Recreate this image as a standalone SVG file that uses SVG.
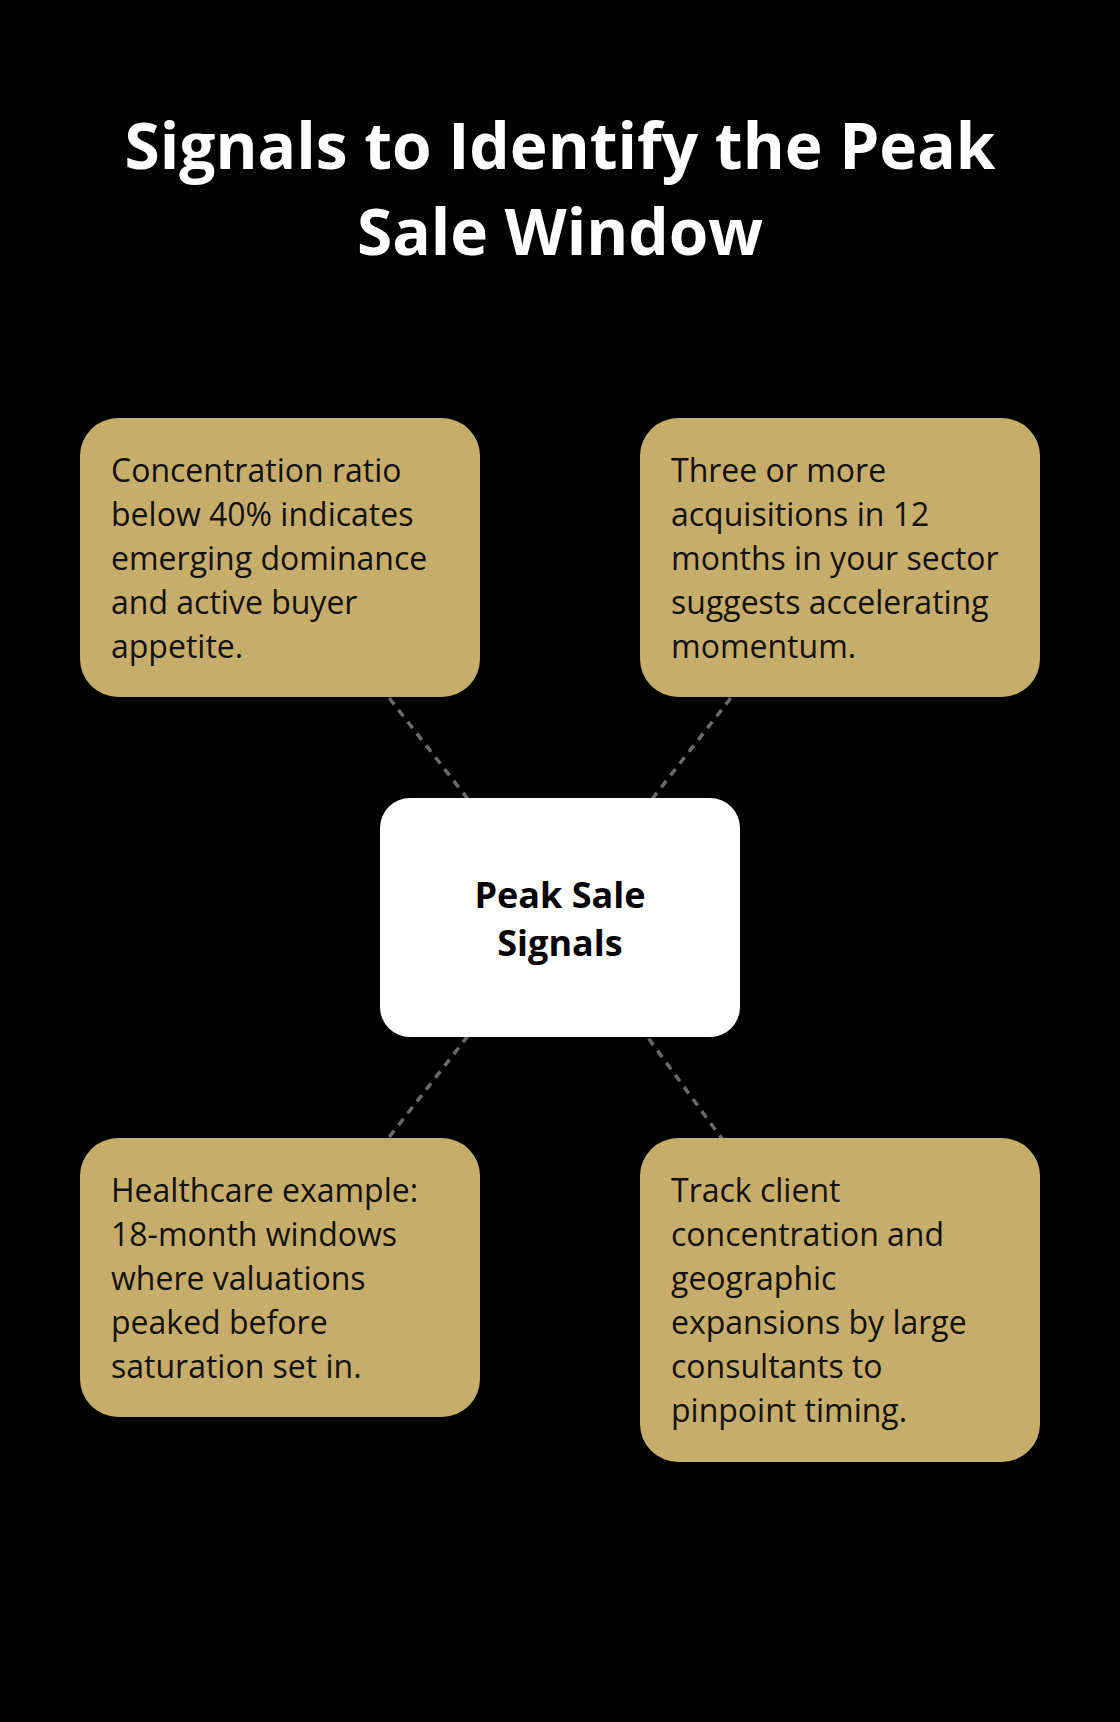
<svg xmlns="http://www.w3.org/2000/svg" width="1120" height="1722" viewBox="0 0 1120 1722">
<style>
.title{font-family:"Open Sans","Liberation Sans",sans-serif;font-weight:700;font-size:64px;fill:#ffffff;text-anchor:middle}
.box{fill:#C6AE6A}
.body{font-family:"Open Sans","Liberation Sans",sans-serif;font-size:32px;fill:#111111}
.center{fill:#ffffff}
.ctext{font-family:"Open Sans","Liberation Sans",sans-serif;font-weight:700;font-size:36px;fill:#000000;text-anchor:middle}
.conn{stroke:#6a6a6a;stroke-width:3.5;stroke-dasharray:8 7;fill:none}
</style>
<rect x="0" y="0" width="1120" height="1722" fill="#000000"/>
<g id="title">
<text class="title" x="560" y="169">Signals to Identify the Peak</text>
<text class="title" x="560" y="255">Sale Window</text>
</g>
<g id="connectors">
<line class="conn" x1="560" y1="917.5" x2="280" y2="557.5"/>
<line class="conn" x1="560" y1="917.5" x2="840" y2="557.5"/>
<line class="conn" x1="560" y1="917.5" x2="280" y2="1277.5"/>
<line class="conn" x1="560" y1="917.5" x2="840" y2="1300"/>
</g>
<g id="node-top-left">
<rect class="box" x="80" y="418" width="400" height="279" rx="38"/>
<text class="body" x="111"><tspan x="111" y="482">Concentration ratio</tspan><tspan x="111" y="526">below 40% indicates</tspan><tspan x="111" y="570">emerging dominance</tspan><tspan x="111" y="614">and active buyer</tspan><tspan x="111" y="658">appetite.</tspan></text>
</g>
<g id="node-top-right">
<rect class="box" x="640" y="418" width="400" height="279" rx="38"/>
<text class="body" x="671"><tspan x="671" y="482">Three or more</tspan><tspan x="671" y="526">acquisitions in 12</tspan><tspan x="671" y="570">months in your sector</tspan><tspan x="671" y="614">suggests accelerating</tspan><tspan x="671" y="658">momentum.</tspan></text>
</g>
<g id="node-center">
<rect class="center" x="380" y="798" width="360" height="239" rx="30"/>
<text class="ctext" x="560" y="908">Peak Sale</text>
<text class="ctext" x="560" y="956">Signals</text>
</g>
<g id="node-bottom-left">
<rect class="box" x="80" y="1138" width="400" height="279" rx="38"/>
<text class="body" x="111"><tspan x="111" y="1202">Healthcare example:</tspan><tspan x="111" y="1246">18-month windows</tspan><tspan x="111" y="1290">where valuations</tspan><tspan x="111" y="1334">peaked before</tspan><tspan x="111" y="1378">saturation set in.</tspan></text>
</g>
<g id="node-bottom-right">
<rect class="box" x="640" y="1138" width="400" height="324" rx="38"/>
<text class="body" x="671"><tspan x="671" y="1202">Track client</tspan><tspan x="671" y="1246">concentration and</tspan><tspan x="671" y="1290">geographic</tspan><tspan x="671" y="1334">expansions by large</tspan><tspan x="671" y="1378">consultants to</tspan><tspan x="671" y="1422">pinpoint timing.</tspan></text>
</g>
</svg>
